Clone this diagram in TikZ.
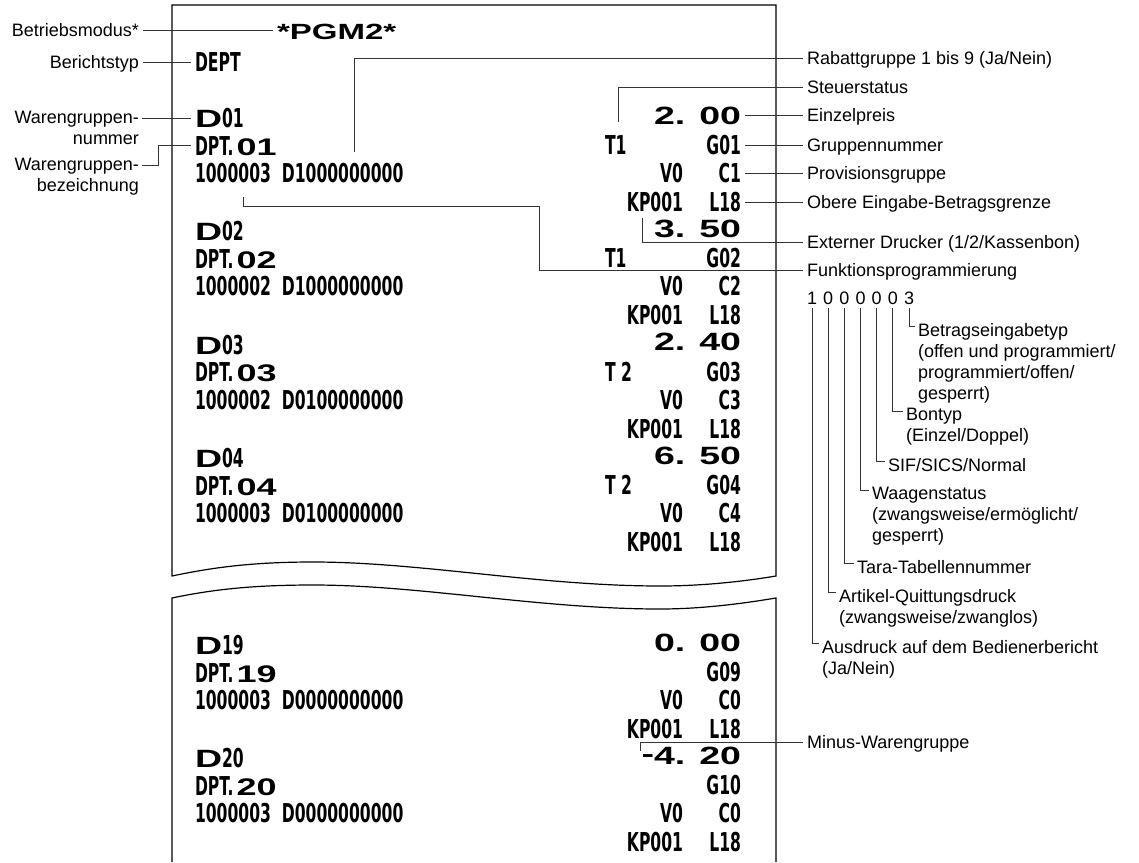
\documentclass[tikz,border=0pt]{standalone}
\usepackage{fontspec}
\setmainfont{Liberation Sans}
\newfontfamily\rcpt{DejaVu Sans Bold}[FakeStretch=0.6]
\newfontfamily\wfont{Liberation Sans Bold}[FakeStretch=1.5]
\usepackage{tikz}
\usetikzlibrary{positioning}

\begin{document}
\begin{tikzpicture}[x=1pt, y=-1pt,
    lab/.style={font=\fontsize{18}{21}\selectfont, inner sep=0pt, outer xsep=4pt, text height=13pt, text depth=0pt},
    labm/.style={font=\fontsize{18}{21}\selectfont, inner sep=0pt, outer xsep=3pt},
    rc/.style={font=\rcpt\fontsize{26}{26}\selectfont, inner sep=0pt, outer xsep=4pt, text height=19pt, text depth=0pt},
    wd/.style={font=\wfont\fontsize{25}{25}\selectfont, inner sep=0pt, outer xsep=4pt, text height=18pt, text depth=0pt},
    lead/.style={draw=black!80, line width=0.9pt},
    paper/.style={draw=black, line width=1.2pt}]
    \useasboundingbox (0,0) rectangle (1139,862);
    % Bon (oben und unten, abgerissen)
    \draw[paper] (172,576) -- (172,5) -- (776,5) -- (776,576)
        .. controls (740,582) and (700,586) .. (660,586)
        .. controls (540,586) and (420,562) .. (313,562)
        .. controls (250,562) and (210,568) .. (172,576) -- cycle;
    \draw[paper] (172,862) -- (172,598)
        .. controls (210,590) and (250,585) .. (313,585)
        .. controls (420,585) and (540,609) .. (660,609)
        .. controls (700,609) and (740,604) .. (776,598) -- (776,862);
    % Kopf
    \node[wd, anchor=west, font=\wfont\fontsize{22}{22}\selectfont] (pgm) at (273,30) {*PGM2*};
    \node[rc, anchor=west] (dept) at (191,62) {DEPT};
    % Warengruppen: {nr}{y}{code}{preis}{steuer}{gruppe}{provision}
    \foreach \nn/\yy/\code/\pr/\tx/\grp/\cm in {
        01/118/{1000003\ \ D1000000000}/{2. 00}/T1/G01/C1,
        02/231.3/{1000002\ \ D1000000000}/{3. 50}/T1/G02/C2,
        03/344.6/{1000002\ \ D0100000000}/{2. 40}/{T 2}/G03/C3,
        04/458/{1000003\ \ D0100000000}/{6. 50}/{T 2}/G04/C4,
        19/645/{1000003\ \ D0000000000}/{0. 00}/{}/G09/C0,
        20/758/{1000003\ \ D0000000000}/{\raisebox{2pt}{-}4. 20}/{}/G10/C0
    } {
        \node[rc, anchor=west] (dn\nn) at (191,\yy) {{\wfont\fontsize{25}{25}\selectfont D}\nn};
        \node[rc, anchor=west] (dp\nn) at (191,\yy+27.5) {DPT.\hspace{3pt}{\wfont\fontsize{24}{24}\selectfont\nn}};
        \node[rc, anchor=west] (cd\nn) at (191,\yy+55) {\code};
        \node[wd, anchor=east] (pr\nn) at (745,\yy-3) {\pr};
        \node[rc, anchor=west] (tx\nn) at (601,\yy+27) {\tx};
        \node[rc, anchor=east] (gr\nn) at (745,\yy+27) {\grp};
        \node[rc, anchor=east] (vv\nn) at (687,\yy+55) {V0};
        \node[rc, anchor=east] (cm\nn) at (745,\yy+55) {\cm};
        \node[rc, anchor=east] (kp\nn) at (687,\yy+84) {KP001};
        \node[rc, anchor=east] (lm\nn) at (745,\yy+84) {L18};
    }
    % Beschriftung links
    \node[lab, anchor=east] (lBtr) at (143,30) {Betriebsmodus*};
    \node[lab, anchor=east] (lBer) at (143,62) {Berichtstyp};
    \node[labm, anchor=north east, align=right] (lWnum) at (142,111) {Warengruppen-\\nummer};
    \node[labm, anchor=north east, align=right] (lWbez) at (142,158) {Warengruppen-\\bezeichnung};
    \coordinate (wk) at (158,0);
    \draw[lead] (lBtr.east) -- (pgm.west);
    \draw[lead] (lBer.east) -- (dept.west);
    \draw[lead] (lWnum.north east |- dn01.west) -- (dn01.west);
    \draw[lead] ([yshift=-7pt]lWbez.north east) -| (wk |- dp01.west) -- (dp01.west);
    % Beschriftung rechts
    \node[lab, anchor=west] (lRab) at (803,58) {Rabattgruppe 1 bis 9 (Ja/Nein)};
    \node[lab, anchor=west] (lSteu) at (803,87) {Steuerstatus};
    \node[lab, anchor=west] (lEin) at (803,115) {Einzelpreis};
    \node[lab, anchor=west] (lGru) at (803,145) {Gruppennummer};
    \node[lab, anchor=west] (lPro) at (803,173) {Provisionsgruppe};
    \node[lab, anchor=west] (lObe) at (803,202) {Obere Eingabe-Betragsgrenze};
    \node[lab, anchor=west] (lExt) at (803,242) {Externer Drucker (1/2/Kassenbon)};
    \node[lab, anchor=west] (lFun) at (803,270) {Funktionsprogrammierung};
    \node[lab, anchor=west] (lMin) at (803,742) {Minus-Warengruppe};
    \coordinate (rb) at (354,152);
    \coordinate (st) at (618,122);
    \coordinate (ex) at (642,218);
    \coordinate (fp) at (243,197);
    \coordinate (fpk) at (539,206);
    \coordinate (mi) at (640,751);
    \draw[lead] (rb) |- (lRab.west);
    \draw[lead] (st) |- (lSteu.west);
    \draw[lead] (pr01.east) -- (lEin.west);
    \draw[lead] (gr01.east) -- (lGru.west);
    \draw[lead] (cm01.east) -- (lPro.west);
    \draw[lead] (lm01.east) -- (lObe.west);
    \draw[lead] (ex) |- (lExt.west);
    \draw[lead] (fp) |- (fpk) |- (lFun.west);
    \draw[lead] (mi) |- (lMin.west);
    % Funktionscode 1000003
    \foreach \i/\dg in {1/1,2/0,3/0,4/0,5/0,6/0,7/3} {
        \node[lab] (dg\i) at (812+16.17*\i-16.17,298) {\dg};
    }
    \node[labm, anchor=north west, align=left] (lBet) at (915,323) {Betragseingabetyp\\(offen und programmiert/\\programmiert/offen/\\gesperrt)};
    \node[labm, anchor=north west, align=left] (lBon) at (903,408) {Bontyp\\(Einzel/Doppel)};
    \node[labm, anchor=north west] (lSif) at (885,458) {SIF/SICS/Normal};
    \node[labm, anchor=north west, align=left] (lWaa) at (869,487) {Waagenstatus\\(zwangsweise/ermöglicht/\\gesperrt)};
    \node[labm, anchor=north west] (lTar) at (854,560) {Tara-Tabellennummer};
    \node[labm, anchor=north west, align=left] (lArt) at (836,589) {Artikel-Quittungsdruck\\(zwangsweise/zwanglos)};
    \node[labm, anchor=north west, align=left] (lAus) at (819,640) {Ausdruck auf dem Bedienerbericht\\(Ja/Nein)};
    \foreach \i/\lb in {1/lAus,2/lArt,3/lTar,4/lWaa,5/lSif,6/lBon,7/lBet} {
        \draw[lead, shorten <=3pt] (dg\i.south) |- ([yshift=-3pt]\lb.north west);
    }
\end{tikzpicture}
\end{document}
